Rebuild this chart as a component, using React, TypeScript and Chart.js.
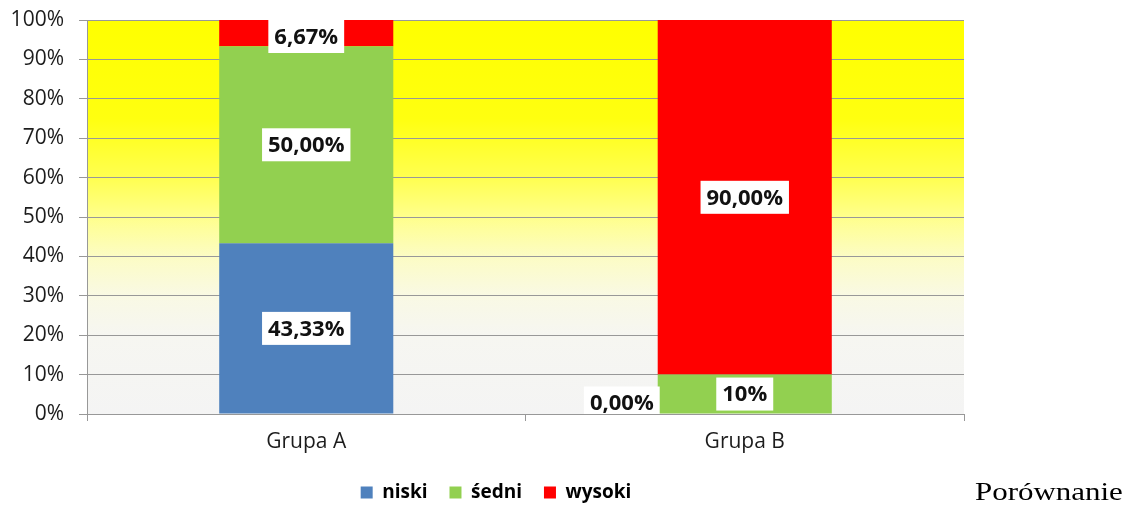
import React, { useEffect, useRef } from "react";
import { Chart, registerables } from "chart.js";

Chart.register(...registerables);

const categories = ["Grupa A", "Grupa B"];
const seriesNames = ["niski", "śedni", "wysoki"];
const niski = [43.33, 0.0];
const sredni = [50.0, 10];
const wysoki = [6.67, 90.0];
const niskiDecimals = [2, 2];
const sredniDecimals = [2, 0];
const wysokiDecimals = [2, 2];
const seriesColors = ["#4F81BD", "#92D050", "#FF0000"];
const yMin = 0;
const yMax = 100;
const yStep = 10;
const caption = "Porównanie";

const FONT = "'Open Sans', 'DejaVu Sans', sans-serif";

const formatPct = (v: number, d: number) => v.toFixed(d).replace(".", ",") + "%";

const backgroundPlugin = {
  id: "plotBackground",
  beforeDraw(chart: any) {
    const { ctx, chartArea } = chart;
    if (!chartArea) return;
    const g = ctx.createLinearGradient(0, chartArea.top, 0, chartArea.bottom);
    g.addColorStop(0, "#FFFF00");
    g.addColorStop(0.25, "#FFFF10");
    g.addColorStop(0.4, "#FFFF50");
    g.addColorStop(0.5, "#FFFF8C");
    g.addColorStop(0.6, "#FCFCC4");
    g.addColorStop(0.7, "#F9F9E4");
    g.addColorStop(0.8, "#F6F6F1");
    g.addColorStop(1, "#F4F4F4");
    ctx.save();
    ctx.fillStyle = g;
    ctx.fillRect(chartArea.left, chartArea.top, chartArea.right - chartArea.left, chartArea.bottom - chartArea.top);
    ctx.restore();
  },
};

const legendShiftPlugin = {
  id: "legendShift",
  afterLayout(chart: any) {
    const lg = chart.legend;
    if (!lg) return;
    const dx = 14;
    const dy = 6;
    lg.left += dx;
    lg.right += dx;
    lg.top += dy;
    lg.bottom += dy;
  },
};

const dataLabelPlugin = {
  id: "boxLabels",
  afterDatasetsDraw(chart: any) {
    const { ctx, chartArea } = chart;
    ctx.save();
    ctx.beginPath();
    ctx.rect(chartArea.left, chartArea.top, chartArea.right - chartArea.left, chartArea.bottom - chartArea.top);
    ctx.clip();
    ctx.font = `bold 22px ${FONT}`;
    ctx.textAlign = "center";
    ctx.textBaseline = "middle";
    chart.data.datasets.forEach((ds: any, di: number) => {
      const meta = chart.getDatasetMeta(di);
      meta.data.forEach((el: any, i: number) => {
        const v = ds.data[i];
        const text = formatPct(v, ds.decimals[i]);
        const tw = ctx.measureText(text).width;
        const w = tw + 12;
        const h = 33;
        const top = Math.min(el.y, el.base);
        const bottom = Math.max(el.y, el.base);
        let cx = el.x;
        let cy = (top + bottom) / 2;
        if (v === 0) {
          cx = el.x - el.width / 2 - w / 2 + 2;
          cy = el.base - 11;
        }
        let by = cy - h / 2;
        if (by < chartArea.top) by = chartArea.top;
        ctx.fillStyle = "#FFFFFF";
        ctx.fillRect(cx - w / 2, by, w, h);
        ctx.fillStyle = "#111111";
        ctx.fillText(text, cx, by + h / 2 + 1);
      });
    });
    ctx.restore();
  },
};

export default function App() {
  const ref = useRef<HTMLCanvasElement | null>(null);

  useEffect(() => {
    if (!ref.current) return;
    const series = [niski, sredni, wysoki];
    const decimals = [niskiDecimals, sredniDecimals, wysokiDecimals];
    const chart = new Chart(ref.current, {
      type: "bar",
      data: {
        labels: categories,
        datasets: series.map((d, i) => ({
          label: seriesNames[i],
          data: d,
          decimals: decimals[i],
          backgroundColor: seriesColors[i],
          borderWidth: 0,
          categoryPercentage: 1,
          barPercentage: 0.397,
        })) as any,
      },
      options: {
        animation: false,
        responsive: false,
        devicePixelRatio: 1,
        layout: { padding: { left: 0, right: 161, top: 20, bottom: 0 } },
        plugins: {
          legend: {
            position: "bottom",
            labels: {
              font: { family: FONT, size: 19, weight: "bold" },
              color: "#000000",
              boxWidth: 12,
              boxHeight: 12,
              padding: 22,
            },
          },
          tooltip: { enabled: false },
          title: { display: false },
        },
        scales: {
          x: {
            stacked: true,
            grid: {
              offset: true,
              drawOnChartArea: false,
              drawTicks: true,
              tickLength: 7,
              color: "#989898",
            },
            border: { display: true, color: "#989898", width: 1 },
            ticks: {
              font: { family: FONT, size: 21 },
              color: "#1C1C1C",
              padding: 8,
            },
            afterFit(scale: any) {
              scale.height = 41;
              scale.paddingLeft = 0;
              scale.paddingRight = 0;
            },
          },
          y: {
            stacked: true,
            min: yMin,
            max: yMax,
            grid: {
              color: "#989898",
              lineWidth: 1,
              drawTicks: true,
              tickLength: 8,
            },
            border: { display: true, color: "#989898", width: 1 },
            ticks: {
              stepSize: yStep,
              font: { family: FONT, size: 21 },
              color: "#1C1C1C",
              padding: 15,
              callback: (v: any) => `${v}%`,
            },
            afterFit(scale: any) {
              scale.width = 87;
              scale.paddingTop = 0;
              scale.paddingBottom = 0;
            },
          },
        },
      },
      plugins: [backgroundPlugin, dataLabelPlugin, legendShiftPlugin],
    });
    return () => chart.destroy();
  }, []);

  return (
    <div style={{ position: "absolute", left: 0, top: 0, width: 1125, height: 506, background: "#FFFFFF" }}>
      <canvas ref={ref} width={1125} height={506} style={{ display: "block" }} />
      <span
        style={{
          position: "absolute",
          left: 975,
          top: 477,
          fontFamily: "'Liberation Serif', 'Times New Roman', serif",
          fontSize: 26,
          color: "#000000",
          whiteSpace: "nowrap",
          transform: "scaleX(1.19)",
          transformOrigin: "left top",
        }}
      >
        {caption}
      </span>
    </div>
  );
}
